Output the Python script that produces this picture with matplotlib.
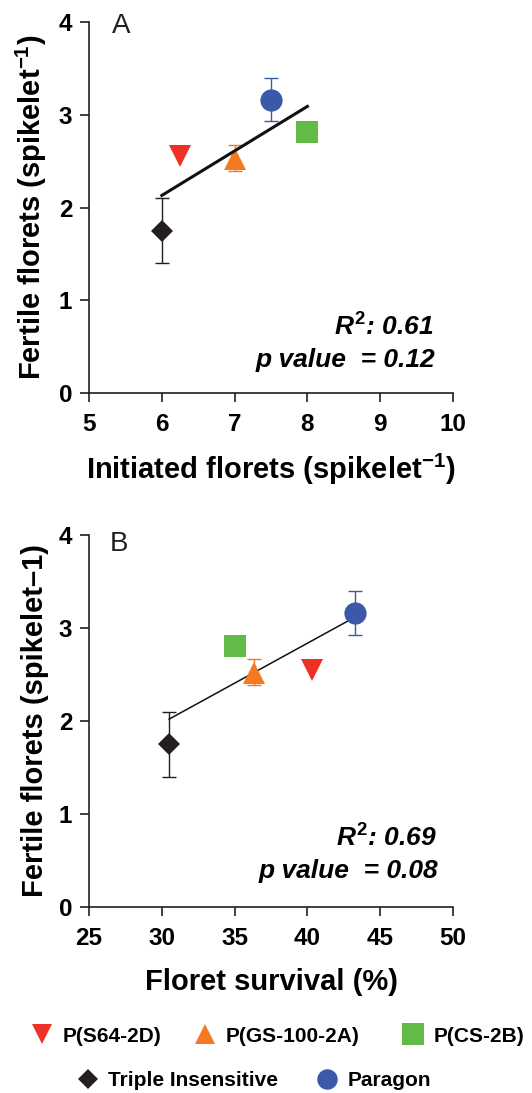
import numpy as np
import matplotlib
matplotlib.use("Agg")
import matplotlib.pyplot as plt
from matplotlib.lines import Line2D

plt.rcParams['font.family'] = ['Liberation Sans', 'DejaVu Sans']
plt.rcParams['mathtext.fontset'] = 'custom'
plt.rcParams['mathtext.rm'] = 'Liberation Sans:bold'
plt.rcParams['mathtext.bf'] = 'Liberation Sans:bold'
plt.rcParams['mathtext.it'] = 'Liberation Sans:italic:bold'

# --- data ---
genotypes = ['P(S64-2D)', 'P(GS-100-2A)', 'P(CS-2B)', 'Triple Insensitive', 'Paragon']
markers = ['v', '^', 's', 'D', 'o']
colors = ['#EE3124', '#F47920', '#62BB46', '#231F20', '#3C58A8']
msizes = [16, 16, 16.5, 11, 16]

fertile = [2.55, 2.52, 2.81, 1.75, 3.16]
fertile_lo = [0.0, 0.13, 0.0, 0.35, 0.23]
fertile_hi = [0.0, 0.15, 0.0, 0.35, 0.24]

initiated = [6.25, 7.0, 8.0, 6.0, 7.5]
survival = [40.3, 36.3, 35.0, 30.5, 43.3]

fit_a_x = [6.0, 8.0]
fit_a_y = [2.13, 3.09]
fit_b_x = [30.5, 43.3]
fit_b_y = [2.02, 3.12]

stats_a = ("0.61", "0.12")
stats_b = ("0.69", "0.08")

fig = plt.figure(figsize=(5.32, 10.93), dpi=100)
ax_a = fig.add_axes([0.1673, 0.6404, 0.6842, 0.3395])
ax_b = fig.add_axes([0.1673, 0.1702, 0.6842, 0.3403])


def style_axis(ax):
    for s in ['top', 'right']:
        ax.spines[s].set_visible(False)
    for s in ['left', 'bottom']:
        ax.spines[s].set_linewidth(1.2)
        ax.spines[s].set_color('#231F20')
    ax.tick_params(direction='out', length=6.5, width=1.2, color='#231F20',
                   labelsize=17.5)
    ax.tick_params(axis='x', pad=8)
    ax.tick_params(axis='y', pad=5.5)
    for lab in ax.get_xticklabels() + ax.get_yticklabels():
        lab.set_fontweight('bold')
    ax.set_ylim(0, 4)
    ax.set_yticks([0, 1, 2, 3, 4])


def draw_points(ax, xs):
    for i in range(len(genotypes)):
        if fertile_lo[i] > 0 or fertile_hi[i] > 0:
            ax.errorbar(xs[i], fertile[i], yerr=[[fertile_lo[i]], [fertile_hi[i]]],
                        fmt='none', ecolor=colors[i], elinewidth=1.0, capsize=4.7,
                        capthick=1.0, zorder=2)
        ax.plot(xs[i], fertile[i], marker=markers[i], color=colors[i],
                markersize=msizes[i], linestyle='none', markeredgewidth=0, zorder=3)


# --- Panel A ---
draw_points(ax_a, initiated)
ax_a.plot(fit_a_x, fit_a_y, color='#111111', linewidth=2.2, zorder=4)
ax_a.set_xlim(5, 10)
ax_a.set_xticks([5, 6, 7, 8, 9, 10])
style_axis(ax_a)
ax_a.set_xlabel(r'Initiated florets (spikelet$^{-1}$)', fontsize=21, fontweight='bold', labelpad=11)
ax_a.set_ylabel(r'Fertile florets (spikelet$^{-1}$)', fontsize=21, fontweight='bold', labelpad=7)
ax_a.text(0.063, 0.970, 'A', transform=ax_a.transAxes, fontsize=20, va='baseline', ha='left',
          color='#231F20')
ax_a.text(0.946, 0.156, r'$R^2$: ' + stats_a[0], transform=ax_a.transAxes, fontsize=19,
          fontweight='bold', fontstyle='italic', ha='right', va='baseline')
ax_a.text(0.952, 0.070, 'p value  = ' + stats_a[1], transform=ax_a.transAxes, fontsize=19,
          fontweight='bold', fontstyle='italic', ha='right', va='baseline')

# --- Panel B ---
draw_points(ax_b, survival)
ax_b.plot(fit_b_x, fit_b_y, color='#111111', linewidth=1.1, zorder=2.5)
ax_b.set_xlim(25, 50)
ax_b.set_xticks([25, 30, 35, 40, 45, 50])
style_axis(ax_b)
ax_b.set_xlabel('Floret survival (%)', fontsize=21, fontweight='bold', labelpad=13)
ax_b.set_ylabel('Fertile florets (spikelet\u20131)', fontsize=21, fontweight='bold', labelpad=7)
ax_b.text(0.058, 0.957, 'B', transform=ax_b.transAxes, fontsize=20, va='baseline', ha='left',
          color='#231F20')
ax_b.text(0.955, 0.163, r'$R^2$: ' + stats_b[0], transform=ax_b.transAxes, fontsize=19,
          fontweight='bold', fontstyle='italic', ha='right', va='baseline')
ax_b.text(0.960, 0.077, 'p value  = ' + stats_b[1], transform=ax_b.transAxes, fontsize=19,
          fontweight='bold', fontstyle='italic', ha='right', va='baseline')

# --- legend, one entry per slot ---
legend_pos = [(32, 1036), (195, 1036), (403, 1036), (78, 1081), (317, 1081)]
for i, (px, py) in enumerate(legend_pos):
    h = Line2D([], [], marker=markers[i], color=colors[i], linestyle='none',
               markersize=msizes[i] * 0.92, markeredgewidth=0)
    fig.legend([h], [genotypes[i]], loc='center left',
               bbox_to_anchor=(px / 532, 1 - py / 1093), frameon=False,
               prop={'weight': 'bold', 'size': 15}, borderpad=0, borderaxespad=0,
               handlelength=1.0, handletextpad=0.45)

fig.savefig('out.png', dpi=100)
